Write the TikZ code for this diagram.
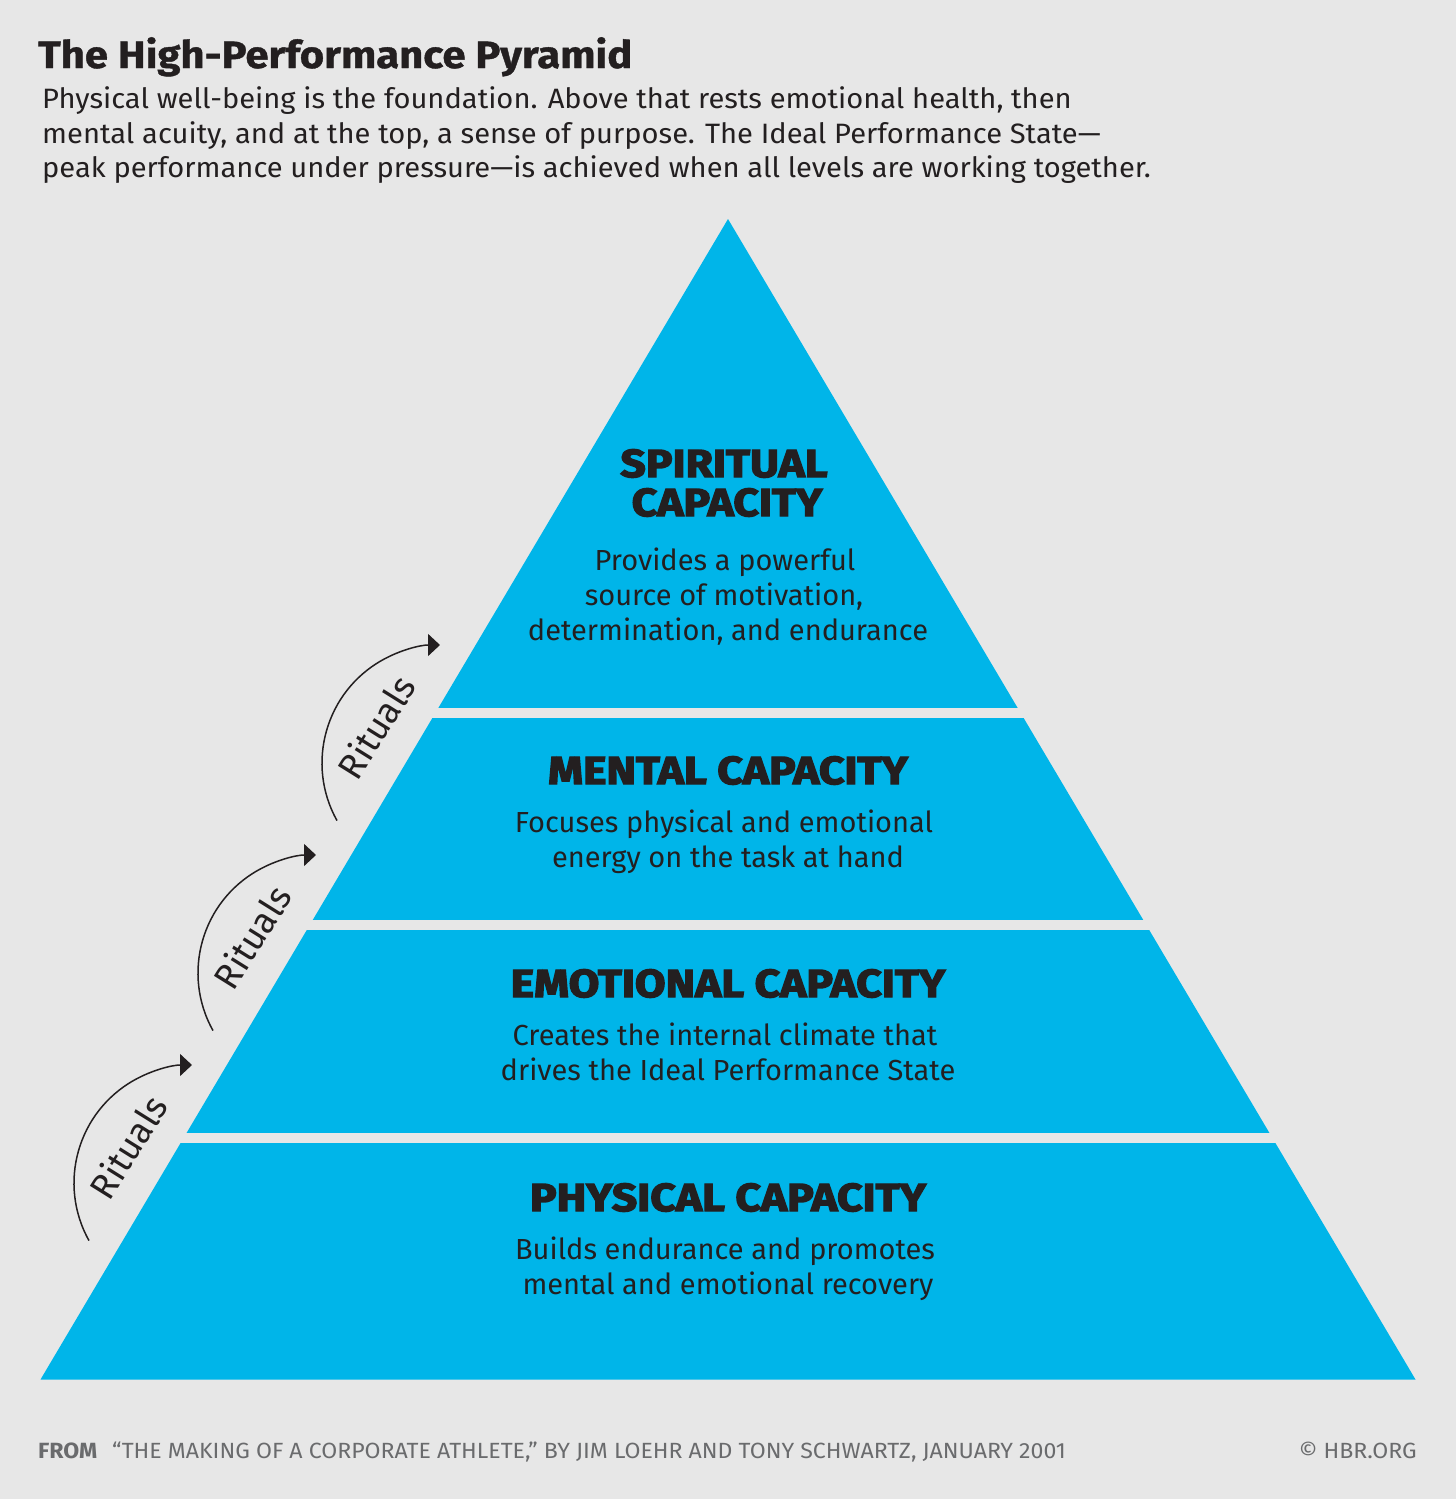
\documentclass[tikz,border=0pt]{standalone}
\usepackage{fontspec}
\setmainfont{Fira Sans}
\newfontfamily\titlefont{Fira Sans}[BoldFeatures={FakeBold=1,FakeStretch=1.1}]
\newfontfamily\subfont{Fira Sans}[FakeStretch=1.04]
\newfontfamily\heavyfont{Fira Sans}[BoldFeatures={FakeBold=3.5,FakeStretch=1.14}]
\newfontfamily\footfont{Fira Sans}[FakeStretch=1.05,BoldFeatures={FakeStretch=1.05}]
\usetikzlibrary{arrows.meta,calc}
\definecolor{bgc}{HTML}{E7E7E7}
\definecolor{pyr}{HTML}{00B5E9}
\definecolor{ink}{HTML}{231F20}
\definecolor{foot}{HTML}{6A6B6D}
\tikzset{
  txt/.style={inner sep=0pt, text=ink},
  title/.style={txt, anchor=base west, font=\titlefont\bfseries\fontsize{38}{44}\selectfont},
  sub/.style={txt, anchor=base west, font=\subfont\fontsize{28}{35}\selectfont},
  head/.style={txt, anchor=base, font=\heavyfont\bfseries\fontsize{39}{40}\selectfont},
  body/.style={txt, anchor=base, font=\fontsize{29}{35}\selectfont},
  rit/.style={txt, font=\fontsize{36}{40}\selectfont, rotate=58},
  ritarrow/.style={draw=ink, line width=1.5pt, -{Triangle[length=12pt,width=22pt]}},
  footer/.style={inner sep=0pt, text=foot, anchor=base west, font=\footfont\fontsize{22}{26}\selectfont},
}
\begin{document}
\begin{tikzpicture}[x=1pt,y=-1pt]
\fill[bgc] (0,0) rectangle (1456,1499);
\useasboundingbox (0,0) rectangle (1456,1499);
% pyramid
\coordinate (apex) at (728,219);
\coordinate (bl) at (40.5,1379.5);
\coordinate (br) at (1415.5,1379.5);
\fill[pyr] (apex) -- (br) -- (bl) -- cycle;
\fill[bgc] (0,708.3) rectangle (1456,718.3);
\fill[bgc] (0,920.3) rectangle (1456,930.3);
\fill[bgc] (0,1132.5) rectangle (1456,1142.5);
% title
\node[title] (ttl) at (38,68) {The High-Performance Pyramid};
\node[sub] (s1) at (42,108) {Physical well-being is the foundation. Above that rests emotional health, then};
\node[sub] (s2) at (42,143) {mental acuity, and at the top, a sense of purpose. The Ideal Performance State—};
\node[sub] (s3) at (42,177) {peak performance under pressure—is achieved when all levels are working together.};
% spiritual
\node[head] (h1a) at (724,477) {SPIRITUAL};
\node[head] (h1b) at (727,516) {CAPACITY};
\node[body] (b1a) at (725,570) {Provides a powerful};
\node[body] (b1b) at (724,605) {source of motivation,};
\node[body] (b1c) at (728,640) {determination, and endurance};
% mental
\node[head] (h2) at (728,784) {MENTAL CAPACITY};
\node[body] (b2a) at (724,832) {Focuses physical and emotional};
\node[body] (b2b) at (728,867) {energy on the task at hand};
% emotional
\node[head] (h3) at (728,997) {EMOTIONAL CAPACITY};
\node[body] (b3a) at (725,1045) {Creates the internal climate that};
\node[body] (b3b) at (728,1080) {drives the Ideal Performance State};
% physical
\node[head] (h4) at (728,1211) {PHYSICAL CAPACITY};
\node[body] (b4a) at (725,1259) {Builds endurance and promotes};
\node[body] (b4b) at (728,1294) {mental and emotional recovery};
% rituals arrows
\foreach \k in {0,1,2}{
  \coordinate (rc\k) at ({192+124*\k},{1183-210*\k});
  \coordinate (rs\k) at ($(rc\k)+(150.8:118)$);
  \draw[ritarrow] (rs\k) arc[start angle=150.8, end angle=270, radius=118];
  \node[rit] (rt\k) at ($(rc\k)+(-64,-36)$) {Rituals};
}
% footer
\node[footer] (f1) at (38,1458) {\bfseries FROM};
\node[footer, anchor=base west] (f2) at (112,1458) {“THE MAKING OF A CORPORATE ATHLETE,” BY JIM LOEHR AND TONY SCHWARTZ, JANUARY 2001};
\node[footer, anchor=base east] (f3) at (1417,1458) {© HBR.ORG};
\end{tikzpicture}
\end{document}
